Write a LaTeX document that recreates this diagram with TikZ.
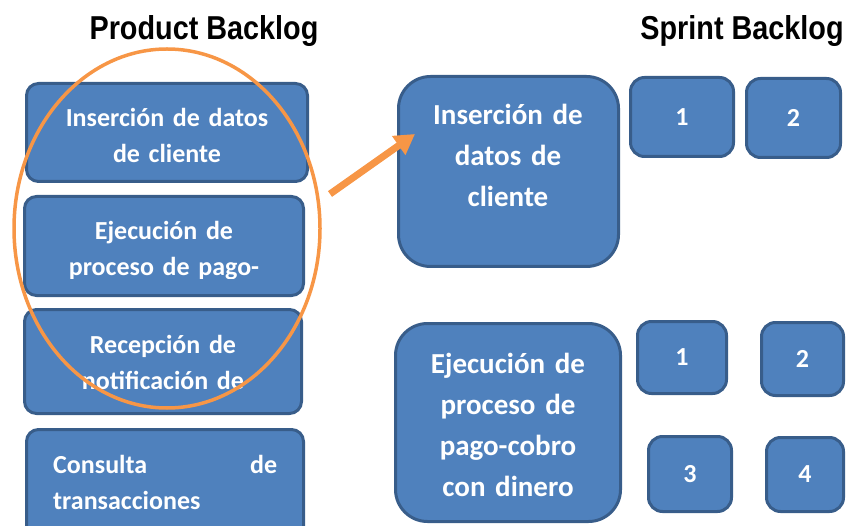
\documentclass[tikz,border=0pt]{standalone}
\usepackage{fontspec}
\setmainfont{Carlito}
\newfontfamily\headfont{Liberation Sans}
\usetikzlibrary{shapes,arrows.meta}
\definecolor{box_blue}{RGB}{79, 129, 189}
\definecolor{box_edge}{RGB}{56, 93, 138}
\definecolor{sel_orange}{RGB}{247, 150, 70}
\tikzstyle{pb}=[rectangle,rounded corners=12pt,fill=box_blue,draw=box_edge,
  line width=3pt,inner sep=0pt]
\tikzstyle{sb}=[pb,rounded corners=32pt]
\tikzstyle{nb}=[pb,rounded corners=14pt,text=white,
  font=\bfseries\fontsize{26}{30}\selectfont]
\tikzstyle{btxt}=[text=white,align=center,text width=270,inner sep=0pt,
  font=\bfseries\fontsize{26}{36}\selectfont]
\tikzstyle{bigtxt}=[btxt,text width=210,font=\bfseries\fontsize{29}{41}\selectfont]
\tikzstyle{htxt}=[inner sep=0pt,font=\headfont\bfseries\fontsize{28.8}{34}\selectfont]

\begin{document}
\begin{tikzpicture}[x=1pt,y=-1pt]
    \useasboundingbox (0,0) rectangle (858,526);
    % headings
    \node [style=htxt,anchor=base] (prod) at (204,39.5) {\scalebox{1}[1.15]{Product Backlog}};
    \node [style=htxt,anchor=base] (sprint) at (742,39.5) {\scalebox{1}[1.15]{Sprint Backlog}};
    % product backlog
    \node [style=pb,minimum width=281,minimum height=98] (pb1) at (167,132.5) {};
    \node [style=pb,minimum width=279,minimum height=99] (pb2) at (164,246) {};
    \node [style=pb,minimum width=277,minimum height=104] (pb3) at (163,361.5) {};
    \node [style=pb,minimum width=277,minimum height=109] (pb4) at (165,484) {};
    \node [style=btxt,anchor=base] (pb1t) at (167,127) {Inserción de datos\\de cliente};
    \begin{scope}
      \clip (23,195) rectangle (305,278);
      \node [style=btxt,anchor=base] (pb2t) at (164,240) {Ejecución de\\proceso de pago-};
    \end{scope}
    \begin{scope}
      \clip (23,308) rectangle (303,393);
      \node [style=btxt,anchor=base] (pb3t) at (163,353) {Recepción de\\notificación de};
    \end{scope}
    \node [style=btxt,align=left,text width=224,anchor=base west] (pb4t) at (53,473)
      {Consulta\hfill de\\transacciones};
    % sprint backlog
    \node [style=sb,minimum width=220,minimum height=190] (sb1) at (508.5,171.5) {};
    \node [style=bigtxt,anchor=base] (sb1t) at (508,125) {Inserción de\\datos de\\cliente};
    \node [style=nb,minimum width=103,minimum height=79] (t11) at (682,117) {1};
    \node [style=nb,minimum width=94,minimum height=79] (t12) at (793.5,118) {2};
    \node [style=sb,minimum width=225,minimum height=198] (sb2) at (508,422.5) {};
    \node [style=bigtxt,anchor=base] (sb2t) at (508,373)
      {Ejecución de\\proceso de\\pago-cobro\\con dinero};
    \node [style=nb,minimum width=89,minimum height=72] (t21) at (682,357.5) {1};
    \node [style=nb,minimum width=82,minimum height=73] (t22) at (802.5,359) {2};
    \node [style=nb,minimum width=83,minimum height=75] (t23) at (690,474) {3};
    \node [style=nb,minimum width=77,minimum height=74] (t24) at (805,474.5) {4};
    % selection
    \node [ellipse,draw=sel_orange,line width=3.5pt,inner sep=0pt,
      minimum width=306,minimum height=359] (sel) at (167,228.5) {};
    \coordinate (from) at (330,194);
    \coordinate (to) at (415,134);
    \draw [sel_orange,line width=7pt,-{Triangle[length=20pt,width=22pt]}] (from) to (to);
\end{tikzpicture}
\end{document}
